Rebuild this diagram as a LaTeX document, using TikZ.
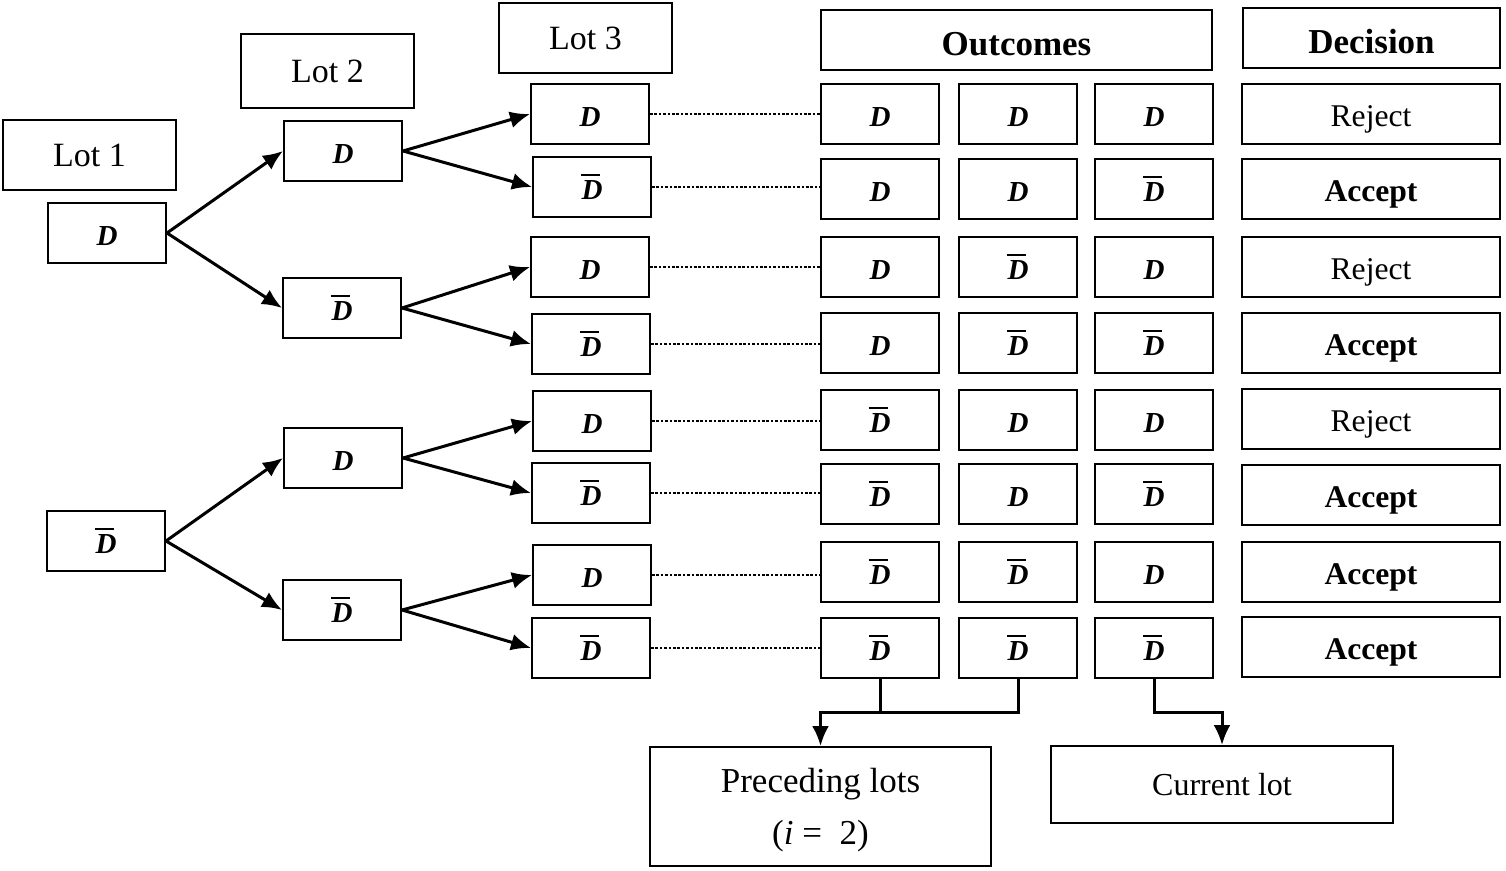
\documentclass[tikz,border=0pt]{standalone}
\usepackage{fontspec}
\setmainfont{Liberation Serif}
\usetikzlibrary{arrows.meta}
\newcommand{\DD}{\textbf{\textit{D}}}
\newcommand{\DB}{\makebox[0pt][l]{\kern-0.02em\rule[0.8em]{0.66em}{0.07em}}\DD}
\begin{document}
\begin{tikzpicture}[x=0.5pt,y=-0.5pt,
  bx/.style={draw,line width=1pt,inner sep=0pt,minimum height=30pt,align=center,text depth=0pt},
  dv/.style={bx,minimum width=59pt,font=\fontsize{14.5}{16}\selectfont,text height=12.5pt},
  dec/.style={bx,minimum width=129pt,text height=12.5pt},
  lot/.style={bx,minimum width=86.5pt,font=\fontsize{17}{20}\selectfont},
  hd/.style={bx,font=\fontsize{17.5}{20}\selectfont\bfseries,text height=16pt},
  arr/.style={line width=1.5pt,-{Latex[length=10pt,width=8.5pt]}},
  ln/.style={line width=1.5pt},
  dot/.style={line width=0.9pt,dash pattern=on 1.3pt off 0.9pt}]
\useasboundingbox (0,0) rectangle (1506,871);
% headers
\node[lot,minimum height=35pt] (lot1) at (89.5,155) {Lot 1};
\node[lot,minimum height=37pt] (lot2) at (327.5,71) {Lot 2};
\node[lot,minimum height=35pt] (lot3) at (585.5,38) {Lot 3};
\node[hd,minimum width=195.5pt] (outh) at (1016.5,40) {Outcomes};
\node[hd,minimum width=128.5pt] (dech) at (1371.5,38) {Decision};
% level 1
\node[dv] (a1) at (107,233) {\DD};
\node[dv] (a2) at (106,541) {\DB};
% level 2
\node[dv] (b1) at (343,151) {\DD};
\node[dv] (b2) at (342,308) {\DB};
\node[dv] (b3) at (343,458) {\DD};
\node[dv] (b4) at (342,610) {\DB};
% level 3
\node[dv] (c1) at (590,114) {\DD};
\node[dv] (c2) at (592,187) {\DB};
\node[dv] (c3) at (590,267) {\DD};
\node[dv] (c4) at (591,344) {\DB};
\node[dv] (c5) at (592,421) {\DD};
\node[dv] (c6) at (591,493) {\DB};
\node[dv] (c7) at (592,575) {\DD};
\node[dv] (c8) at (591,648) {\DB};
% arrows
\draw[arr] (a1.east) -- (b1.west);
\draw[arr] (a1.east) -- (b2.west);
\draw[arr] (a2.east) -- (b3.west);
\draw[arr] (a2.east) -- (b4.west);
\draw[arr] (b1.east) -- (c1.west);
\draw[arr] (b1.east) -- (c2.west);
\draw[arr] (b2.east) -- (c3.west);
\draw[arr] (b2.east) -- (c4.west);
\draw[arr] (b3.east) -- (c5.west);
\draw[arr] (b3.east) -- (c6.west);
\draw[arr] (b4.east) -- (c7.west);
\draw[arr] (b4.east) -- (c8.west);
% outcomes
\foreach \r/\y/\p/\q/\s in {1/114/\DD/\DD/\DD, 2/189/\DD/\DD/\DB, 3/267/\DD/\DB/\DD, 4/343/\DD/\DB/\DB,
  5/420/\DB/\DD/\DD, 6/494/\DB/\DD/\DB, 7/572/\DB/\DB/\DD, 8/648/\DB/\DB/\DB}{
  \node[dv] (o\r a) at (880,\y) {\p};
  \node[dv] (o\r b) at (1018,\y) {\q};
  \node[dv] (o\r c) at (1154,\y) {\s};
}
% decisions
\foreach \r/\y/\t in {1/114/Reject, 2/189/\textbf{Accept}, 3/267/Reject, 4/343/\textbf{Accept},
  5/419/Reject, 6/495/\textbf{Accept}, 7/572/\textbf{Accept}, 8/647/\textbf{Accept}}{
  \node[dec,font=\fontsize{15.8}{18}\selectfont] (d\r) at (1371,\y) {\t};
}
% dotted
\foreach \r in {1,...,8}{\draw[dot] (c\r.east) -- (c\r.east -| o\r a.west);}
% bottom
\node[bx,minimum width=170.5pt,minimum height=59.5pt,font=\fontsize{17.5}{26}\selectfont] (prec) at (820.5,806.5) {Preceding lots\\(\textit{i} = \ 2)};
\node[bx,minimum width=171pt,minimum height=38.5pt,font=\fontsize{16}{20}\selectfont] (cur) at (1222,784.5) {Current lot};
\coordinate (ja) at (820.5,712);
\coordinate (jb) at (1222,712);
\draw[ln] (o8a.south) -- (o8a.south |- ja);
\draw[arr] (o8b.south) |- (ja) -- (prec.north);
\draw[arr] (o8c.south) |- (jb) -- (cur.north);
\end{tikzpicture}
\end{document}
